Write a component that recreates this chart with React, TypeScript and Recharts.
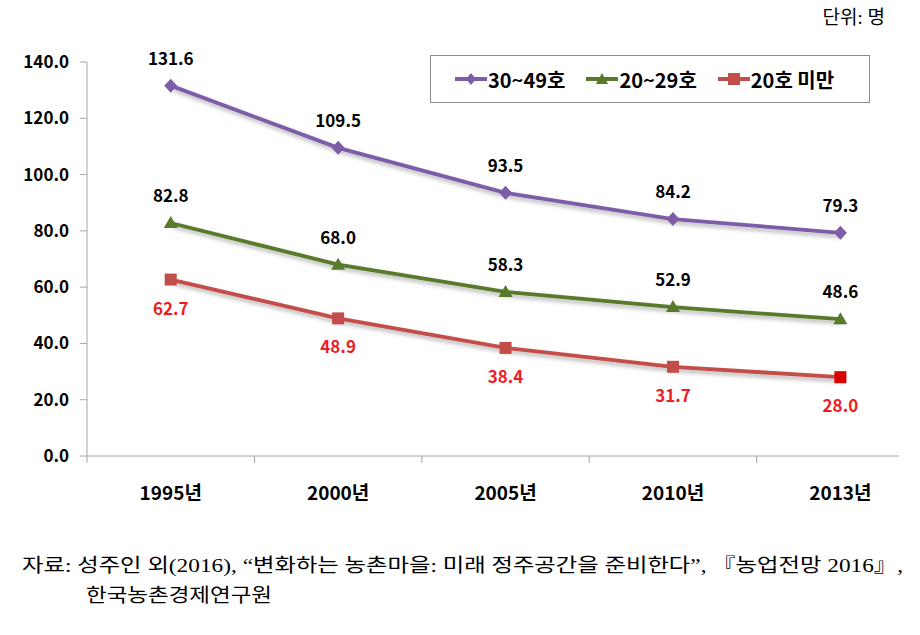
import React from 'react';
import { LineChart, Line, XAxis, YAxis, LabelList } from 'recharts';

const categories = ['1995년', '2000년', '2005년', '2010년', '2013년'];
const seriesNames = ['30~49호', '20~29호', '20호 미만'];
const values3049 = [131.6, 109.5, 93.5, 84.2, 79.3];
const values2029 = [82.8, 68.0, 58.3, 52.9, 48.6];
const valuesUnder20 = [62.7, 48.9, 38.4, 31.7, 28.0];
const yTicks = [0, 20, 40, 60, 80, 100, 120, 140];
const unitText = '단위: 명';
const sourceLine1 = '자료: 성주인 외(2016), “변화하는 농촌마을: 미래 정주공간을 준비한다”, 『농업전망 2016』,';
const sourceLine2 = '한국농촌경제연구원';

const PURPLE = '#7D5DA8';
const GREEN = '#587A2A';
const RED = '#C24D4A';
const RED_LAST = '#D80000';
const LABEL_RED = '#EE1C24';
const AXIS = '#A6A6A6';
const FONT = '"Noto Sans CJK KR", "Noto Sans", sans-serif';
const SERIF = '"Liberation Serif", "Noto Sans CJK KR", serif';

const data = categories.map((cat, i) => ({
  pos: i + 0.5,
  cat,
  a: values3049[i],
  b: values2029[i],
  c: valuesUnder20[i],
}));

const xTicks: number[] = [];
categories.forEach((_, i) => {
  xTicks.push(i);
  xTicks.push(i + 0.5);
});

const XTick = (props: any) => {
  const { x, y, payload } = props;
  const v = payload.value as number;
  if (Math.abs(v - Math.round(v)) < 1e-6) {
    return <line x1={x} x2={x} y1={y} y2={y + 7} stroke={AXIS} strokeWidth={1} />;
  }
  return (
    <text x={x} y={y + 44} textAnchor="middle" fontFamily={FONT} fontWeight={700} fontSize={19} fill="#000">
      {categories[Math.floor(v)]}
    </text>
  );
};

const Diamond = (props: any) => {
  const { cx, cy, index } = props;
  if (cx == null || cy == null) return <g key={index} />;
  return (
    <polygon key={index} points={`${cx},${cy - 7} ${cx + 6.5},${cy} ${cx},${cy + 7} ${cx - 6.5},${cy}`} fill={PURPLE} />
  );
};

const Triangle = (props: any) => {
  const { cx, cy, index } = props;
  if (cx == null || cy == null) return <g key={index} />;
  return (
    <polygon key={index} points={`${cx},${cy - 7} ${cx + 7},${cy + 5} ${cx - 7},${cy + 5}`} fill={GREEN} />
  );
};

const Square = (props: any) => {
  const { cx, cy, index } = props;
  if (cx == null || cy == null) return <g key={index} />;
  const last = index === valuesUnder20.length - 1;
  return <rect key={index} x={cx - 6} y={cy - 6} width={12} height={12} fill={last ? RED_LAST : RED} />;
};

const LegendIcon = ({ color, kind }: { color: string; kind: number }) => (
  <svg width={32} height={14} style={{ display: 'block' }}>
    <line x1={0} y1={7} x2={32} y2={7} stroke={color} strokeWidth={4} />
    {kind === 0 && <polygon points="16,1 21,7 16,13 11,7" fill={color} />}
    {kind === 1 && <polygon points="16,1 22,12 10,12" fill={color} />}
    {kind === 2 && <rect x={10} y={1} width={12} height={12} fill={color} />}
  </svg>
);

const legendColors = [PURPLE, GREEN, RED];

export default function App() {
  return (
    <div style={{ position: 'absolute', left: 0, top: 0, width: 920, height: 635, background: '#fff', overflow: 'hidden' }}>
      <LineChart width={920} height={635} data={data} margin={{ top: 62, right: 21, bottom: 119, left: 0 }}>
        <defs>
          <filter id="sh" x="-10%" y="-10%" width="120%" height="140%">
            <feDropShadow dx="2" dy="3" stdDeviation="2" floodColor="#000" floodOpacity="0.3" />
          </filter>
        </defs>
        <XAxis
          type="number"
          dataKey="pos"
          domain={[0, 4.85]}
          ticks={xTicks}
          interval={0}
          tickSize={0}
          tickMargin={0}
          tickLine={false}
          axisLine={{ stroke: AXIS }}
          tick={<XTick />}
          height={60}
          allowDataOverflow
        />
        <YAxis
          type="number"
          domain={[0, 140]}
          ticks={yTicks}
          interval={0}
          width={87}
          tickSize={7}
          tickMargin={11}
          axisLine={{ stroke: AXIS }}
          tickLine={{ stroke: AXIS }}
          tickFormatter={(v: number) => v.toFixed(1)}
          tick={{ fontFamily: FONT, fontWeight: 700, fontSize: 17, fill: '#000' }}
        />
        <Line dataKey="a" stroke={PURPLE} strokeWidth={3.8} dot={Diamond} activeDot={false} isAnimationActive={false} filter="url(#sh)">
          <LabelList dataKey="a" position="top" offset={21} formatter={(v: number) => v.toFixed(1)} fill="#000" fontFamily={FONT} fontWeight={700} fontSize={17} />
        </Line>
        <Line dataKey="b" stroke={GREEN} strokeWidth={3.8} dot={Triangle} activeDot={false} isAnimationActive={false} filter="url(#sh)">
          <LabelList dataKey="b" position="top" offset={21} formatter={(v: number) => v.toFixed(1)} fill="#000" fontFamily={FONT} fontWeight={700} fontSize={17} />
        </Line>
        <Line dataKey="c" stroke={RED} strokeWidth={3.8} dot={Square} activeDot={false} isAnimationActive={false} filter="url(#sh)">
          <LabelList dataKey="c" position="bottom" offset={23} formatter={(v: number) => v.toFixed(1)} fill={LABEL_RED} fontFamily={FONT} fontWeight={700} fontSize={17} />
        </Line>
      </LineChart>

      <div
        style={{
          position: 'absolute',
          left: 430,
          top: 55,
          width: 440,
          height: 48,
          boxSizing: 'border-box',
          border: '1px solid #8C8C8C',
          display: 'flex',
          alignItems: 'center',
          paddingLeft: 24,
          fontFamily: FONT,
          fontWeight: 700,
          fontSize: 20,
          color: '#000',
        }}
      >
        {seriesNames.map((name, i) => (
          <div key={name} style={{ display: 'flex', alignItems: 'center', marginRight: 21 }}>
            <LegendIcon color={legendColors[i]} kind={i} />
            <span style={{ marginLeft: 1, whiteSpace: 'nowrap' }}>{name}</span>
          </div>
        ))}
      </div>

      <svg width={920} height={635} style={{ position: 'absolute', left: 0, top: 0, pointerEvents: 'none' }}>
        <text x={885} y={24} textAnchor="end" fontFamily={SERIF} fontSize={19} fill="#000">
          {unitText}
        </text>
        <text x={22} y={572} fontFamily={SERIF} fontSize={19} fill="#000" textLength={881} lengthAdjust="spacingAndGlyphs">
          {sourceLine1}
        </text>
        <text x={86} y={602} fontFamily={SERIF} fontSize={19} fill="#000" textLength={186} lengthAdjust="spacingAndGlyphs">
          {sourceLine2}
        </text>
      </svg>
    </div>
  );
}
